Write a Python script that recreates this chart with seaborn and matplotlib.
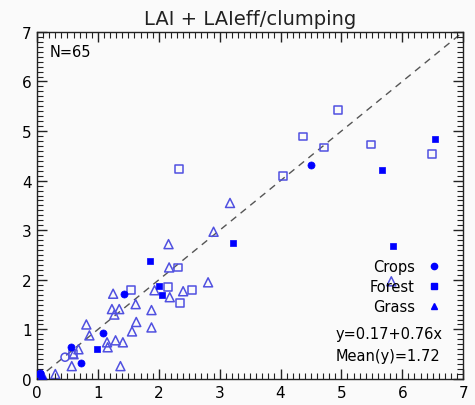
import matplotlib
matplotlib.use("Agg")
import matplotlib.pyplot as plt
from matplotlib.lines import Line2D
from matplotlib.ticker import MultipleLocator
import seaborn as sns
import pandas as pd

# Grass: LAI (open triangles)
grass_open_x = [3.17, 2.90, 2.16, 2.17, 1.93, 2.18, 2.40, 2.81, 5.82, 1.25, 1.62, 1.23, 1.35, 1.27,
                1.88, 1.63, 1.56, 1.88, 0.81, 0.86, 1.15, 1.29, 1.41, 1.16, 0.68, 0.60, 0.57, 1.37,
                0.30, 0.10]
grass_open_y = [3.55, 2.97, 2.72, 2.25, 1.79, 1.65, 1.77, 1.95, 1.97, 1.72, 1.51, 1.41, 1.41, 1.30,
                1.39, 1.15, 0.96, 1.04, 1.10, 0.88, 0.74, 0.78, 0.74, 0.64, 0.60, 0.50, 0.26, 0.26,
                0.10, 0.05]
# Forest: LAI (open squares)
forest_open_x = [4.94, 4.37, 4.72, 5.48, 6.49, 4.04, 2.33, 2.32, 2.15, 2.54, 2.35, 1.55, 0.59, 0.05]
forest_open_y = [5.43, 4.89, 4.67, 4.73, 4.53, 4.10, 4.23, 2.25, 1.86, 1.80, 1.53, 1.80, 0.50, 0.05]
# Forest: LAIeff/clumping (filled squares)
forest_fill_x = [6.54, 5.67, 5.85, 3.22, 1.86, 2.00, 2.06, 0.99, 0.05]
forest_fill_y = [4.85, 4.22, 2.69, 2.74, 2.37, 1.87, 1.70, 0.60, 0.10]
# Crops: LAIeff/clumping (filled circles) and LAI (open circles)
crops_fill_x = [4.50, 1.43, 1.09, 0.55, 0.73, 0.05]
crops_fill_y = [4.32, 1.71, 0.93, 0.64, 0.32, 0.12]
crops_open_x = [0.46]
crops_open_y = [0.44]
# Grass: LAIeff/clumping (filled triangles)
grass_fill_x = [0.08]
grass_fill_y = [0.08]

categories = ["Crops", "Forest", "Grass"]
n_label = "N=65"
fit_label = "y=0.17+0.76x"
mean_label = "Mean(y)=1.72"
title = "LAI + LAIeff/clumping"

BLUE = "#0000ff"
OPEN = "#5050e0"
BG = "#fafafa"
INK = "#222222"

plt.rcParams["font.family"] = ["DejaVu Sans"]

fig = plt.figure(figsize=(4.75, 4.06), dpi=100, facecolor=BG)
ax = fig.add_axes([0.078, 0.064, 0.897, 0.855])
ax.set_facecolor(BG)

# 1:1 reference line
ax.plot([0, 7], [0, 7], ls=(0, (5, 4)), color="#555555", lw=1.0, zorder=1)

groups = [
    (grass_open_x, grass_open_y, "^", False, 42),
    (forest_open_x, forest_open_y, "s", False, 32),
    (crops_open_x, crops_open_y, "o", False, 34),
    (forest_fill_x, forest_fill_y, "s", True, 24),
    (crops_fill_x, crops_fill_y, "o", True, 26),
    (grass_fill_x, grass_fill_y, "^", True, 34),
]
for gx, gy, mk, filled, size in groups:
    df = pd.DataFrame({"x": gx, "y": gy})
    if filled:
        sns.scatterplot(data=df, x="x", y="y", marker=mk, s=size, color=BLUE,
                        edgecolor=BLUE, linewidth=0.5, ax=ax, zorder=3)
    else:
        sns.scatterplot(data=df, x="x", y="y", marker=mk, s=size, facecolor="none",
                        edgecolor=OPEN, linewidth=1.1, ax=ax, zorder=2)

ax.set_xlim(0, 7)
ax.set_ylim(0, 7)
ax.set_xlabel("")
ax.set_ylabel("")
for sp in ax.spines.values():
    sp.set_color(INK)
    sp.set_linewidth(1.0)

ax.set_title(title, fontsize=14, pad=6, color=INK)
ax.text(0.2, 6.6, n_label, fontsize=10.5, va="center", ha="left", color="black")
ax.text(4.9, 0.91, fit_label, fontsize=10.5, va="center", ha="left", color="black")
ax.text(4.9, 0.48, mean_label, fontsize=10.5, va="center", ha="left", color="black")

handles = [
    Line2D([], [], marker="o", ls="none", color=BLUE, markersize=4.5),
    Line2D([], [], marker="s", ls="none", color=BLUE, markersize=4.5),
    Line2D([], [], marker="^", ls="none", color=BLUE, markersize=4.5),
]
leg = ax.legend(handles, categories, markerfirst=False, frameon=False, fontsize=10.5,
                loc="center right", bbox_to_anchor=(0.965, 0.266), handlelength=1.0,
                handletextpad=0.8, labelspacing=0.35, borderpad=0)
for t in leg.get_texts():
    t.set_color("black")

# inward ticks on all four sides, minor every 0.1
ax.set_axisbelow(False)
ax.xaxis.set_major_locator(MultipleLocator(1))
ax.yaxis.set_major_locator(MultipleLocator(1))
ax.xaxis.set_minor_locator(MultipleLocator(0.1))
ax.yaxis.set_minor_locator(MultipleLocator(0.1))
ax.tick_params(which="both", direction="in", top=True, right=True, bottom=True, left=True,
               color=INK)
ax.tick_params(which="major", length=7, width=1.0, labelsize=11, pad=4, labelcolor="black")
ax.tick_params(which="minor", length=4, width=0.8)

fig.savefig("out.png", dpi=100, facecolor=BG)
